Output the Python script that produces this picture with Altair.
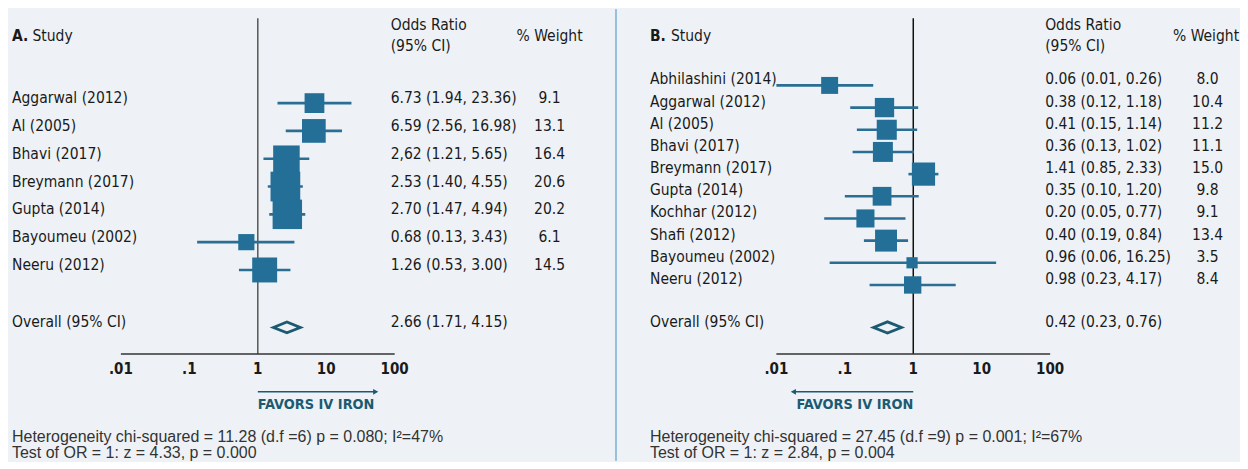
import altair as alt
import pandas as pd

# ---------------- data ----------------
left_studies = ["Aggarwal (2012)", "Al (2005)", "Bhavi (2017)", "Breymann (2017)",
                "Gupta (2014)", "Bayoumeu (2002)", "Neeru (2012)"]
left_or = [6.73, 6.59, 2.62, 2.53, 2.70, 0.68, 1.26]
left_lo = [1.94, 2.56, 1.21, 1.40, 1.47, 0.13, 0.53]
left_hi = [23.36, 16.98, 5.65, 4.55, 4.94, 3.43, 3.00]
left_w = [9.1, 13.1, 16.4, 20.6, 20.2, 6.1, 14.5]
left_labels = ["6.73 (1.94, 23.36)", "6.59 (2.56, 16.98)", "2,62 (1.21, 5.65)",
               "2.53 (1.40, 4.55)", "2.70 (1.47, 4.94)", "0.68 (0.13, 3.43)",
               "1.26 (0.53, 3.00)"]
left_overall = [2.66, 1.71, 4.15]
left_overall_label = "2.66 (1.71, 4.15)"
left_notes = ["Heterogeneity chi-squared = 11.28 (d.f =6) p = 0.080; I\u00b2=47%",
              "Test of OR = 1: z = 4.33, p = 0.000"]

right_studies = ["Abhilashini (2014)", "Aggarwal (2012)", "Al (2005)", "Bhavi (2017)",
                 "Breymann (2017)", "Gupta (2014)", "Kochhar (2012)", "Shafi (2012)",
                 "Bayoumeu (2002)", "Neeru (2012)"]
right_or = [0.06, 0.38, 0.41, 0.36, 1.41, 0.35, 0.20, 0.40, 0.96, 0.98]
right_lo = [0.01, 0.12, 0.15, 0.13, 0.85, 0.10, 0.05, 0.19, 0.06, 0.23]
right_hi = [0.26, 1.18, 1.14, 1.02, 2.33, 1.20, 0.77, 0.84, 16.25, 4.17]
right_w = [8.0, 10.4, 11.2, 11.1, 15.0, 9.8, 9.1, 13.4, 3.5, 8.4]
right_labels = ["0.06 (0.01, 0.26)", "0.38 (0.12, 1.18)", "0.41 (0.15, 1.14)",
                "0.36 (0.13, 1.02)", "1.41 (0.85, 2.33)", "0.35 (0.10, 1.20)",
                "0.20 (0.05, 0.77)", "0.40 (0.19, 0.84)", "0.96 (0.06, 16.25)",
                "0.98 (0.23, 4.17)"]
right_overall = [0.42, 0.23, 0.76]
right_overall_label = "0.42 (0.23, 0.76)"
right_notes = ["Heterogeneity chi-squared = 27.45 (d.f =9) p = 0.001; I\u00b2=67%",
               "Test of OR = 1: z = 2.84, p = 0.004"]

tick_values = [0.01, 0.1, 1, 10, 100]
tick_labels = [".01", ".1", "1", "10", "100"]

# ---------------- styles ----------------
BG = "#eef2f6"
MARK = "#236f98"
CI = "#2b6e93"
TEAL = "#1c5a72"
TXT = "#1a1a1a"
NARROW = "DejaVu Sans Condensed, DejaVu Sans, sans-serif"
SANS = "Liberation Sans, Arial, Helvetica, sans-serif"
FS = 15.5
H = 452


def text_at(txt, x, y, **kw):
    base = dict(align="left", baseline="middle", font=NARROW, fontSize=FS, color=TXT)
    base.update(kw)
    return alt.Chart(pd.DataFrame({"t": [txt]})).mark_text(**base).encode(
        x=alt.value(x), y=alt.value(y), text="t:N")


def panel(p):
    n = len(p["studies"])
    xs = alt.Scale(type="log", domain=[tick_values[0], tick_values[-1]],
                   range=[p["x01"], p["x100"]], nice=False)
    ys = alt.Scale(domain=[0, n - 1], range=[p["ytop"], p["ybot"]], zero=False, nice=False)
    df = pd.DataFrame({
        "study": p["studies"], "or": p["or"], "lo": p["lo"], "hi": p["hi"],
        "w": p["w"], "label": p["labels"],
        "wlabel": [f"{v:.1f}" for v in p["w"]],
        "row": list(range(n)),
    })
    X = lambda f: alt.X(f, scale=xs, axis=None)
    Y = alt.Y("row:Q", scale=ys, axis=None)

    layers = []
    layers.append(alt.Chart(pd.DataFrame({"v": [1.0]})).mark_rule(
        color=p["refcol"], strokeWidth=1.5).encode(
        x=X("v:Q"), y=alt.value(9), y2=alt.value(345)))
    layers.append(alt.Chart(df).mark_rule(color=CI, strokeWidth=2.6).encode(
        x=X("lo:Q"), x2="hi:Q", y=Y))
    layers.append(alt.Chart(df).mark_point(shape="square", filled=True, opacity=1,
                                           color=MARK).encode(
        x=X("or:Q"), y=Y,
        size=alt.Size("w:Q", scale=alt.Scale(domain=[0, 25], range=[0, 25 * p["k"]]),
                      legend=None)))
    common = dict(baseline="middle", font=NARROW, fontSize=FS, color=TXT, dy=p["dy"])
    layers.append(alt.Chart(df).mark_text(align="left", **common).encode(
        x=alt.value(p["xname"]), y=Y, text="study:N"))
    layers.append(alt.Chart(df).mark_text(align="left", **common).encode(
        x=alt.value(p["xor"]), y=Y, text="label:N"))
    layers.append(alt.Chart(df).mark_text(align="center", **common).encode(
        x=alt.value(p["xw"]), y=Y, text="wlabel:N"))
    layers.append(text_at(p["letter"], p["xname"], 27, fontWeight="bold"))
    layers.append(text_at("Study", p["xstudy"], 27))
    layers.append(text_at("Odds Ratio", p["xor"], 16))
    layers.append(text_at("(95% CI)", p["xor"], 37))
    layers.append(text_at("% Weight", p["xwh"], 27))
    od = pd.DataFrame({"or": [p["overall"][0]], "lo": [p["overall"][1]],
                       "hi": [p["overall"][2]]})
    layers.append(alt.Chart(od).mark_point(
        shape="M-1,0L0,-0.4L1,0L0,0.4Z", size=p["dsize"], filled=False, opacity=1,
        stroke=TEAL, strokeWidth=2.8).encode(x=X("or:Q"), y=alt.value(318.5)))
    layers.append(text_at("Overall (95% CI)", p["xname"], 313))
    layers.append(text_at(p["overall_label"], p["xor"], 313))
    ad = pd.DataFrame({"a": [tick_values[0]], "b": [tick_values[-1]]})
    layers.append(alt.Chart(ad).mark_rule(color="#333333", strokeWidth=1.5).encode(
        x=X("a:Q"), x2="b:Q", y=alt.value(345)))
    td = pd.DataFrame({"v": tick_values, "t": tick_labels})
    layers.append(alt.Chart(td).mark_text(align="center", baseline="middle", font=NARROW,
                                          fontSize=15, fontWeight="bold", color=TXT).encode(
        x=X("v:Q"), y=alt.value(360), text="t:N"))
    layers.append(alt.Chart(pd.DataFrame({"v": [1.0]})).mark_rule(
        color=TEAL, strokeWidth=1.5).encode(
        x=X("v:Q"), x2=alt.value(p["arrow_end"]), y=alt.value(383)))
    layers.append(alt.Chart(pd.DataFrame({"v": [1.0]})).mark_point(
        shape=p["arrow_shape"], filled=True, opacity=1, color=TEAL, size=36).encode(
        x=alt.value(p["arrow_end"]), y=alt.value(383)))
    layers.append(alt.Chart(pd.DataFrame({"v": [1.0], "t": ["FAVORS IV IRON"]})).mark_text(
        align=p["fav_align"], baseline="middle", font=NARROW, fontSize=14.4,
        fontWeight="bold", color=TEAL).encode(x=X("v:Q"), y=alt.value(396), text="t:N"))
    layers.append(text_at(p["notes"][0], p["xname"], 428, font=SANS, fontSize=16,
                          color="#333333"))
    layers.append(text_at(p["notes"][1], p["xname"], 444, font=SANS, fontSize=16,
                          color="#333333"))
    if p.get("divider"):
        layers.append(alt.Chart(pd.DataFrame({"v": [0]})).mark_rule(
            color="#3d8fc6", strokeWidth=1).encode(
            x=alt.value(0.5), y=alt.value(0), y2=alt.value(H)))
    return alt.layer(*layers).properties(width=p["width"], height=H)


left = panel(dict(
    studies=left_studies, **{"or": left_or}, lo=left_lo, hi=left_hi, w=left_w,
    labels=left_labels, overall=left_overall, overall_label=left_overall_label,
    notes=left_notes, x01=113, x100=387, ytop=94, ybot=261, dy=-5, k=43,
    xname=4, xstudy=24.5, xor=383, xw=542, xwh=509, letter="A.", refcol="#555555",
    dsize=729, arrow_end=368, arrow_shape="triangle-right", fav_align="left",
    width=608))
right = panel(dict(
    studies=right_studies, **{"or": right_or}, lo=right_lo, hi=right_hi, w=right_w,
    labels=right_labels, overall=right_overall, overall_label=right_overall_label,
    notes=right_notes, x01=161, x100=435, ytop=76.3, ybot=276, dy=-6, k=36,
    xname=34.5, xstudy=55.5, xor=430, xw=592.5, xwh=558, letter="B.", refcol="#111111",
    dsize=784, arrow_end=178, arrow_shape="triangle-left", fav_align="right",
    width=624, divider=True))

chart = alt.hconcat(left, right, spacing=0).resolve_scale(
    x="independent", y="independent", size="independent"
).properties(
    background=BG, padding=0
).configure_view(stroke=None)

chart.save("out.html", embed_options={"renderer": "svg", "actions": False})
